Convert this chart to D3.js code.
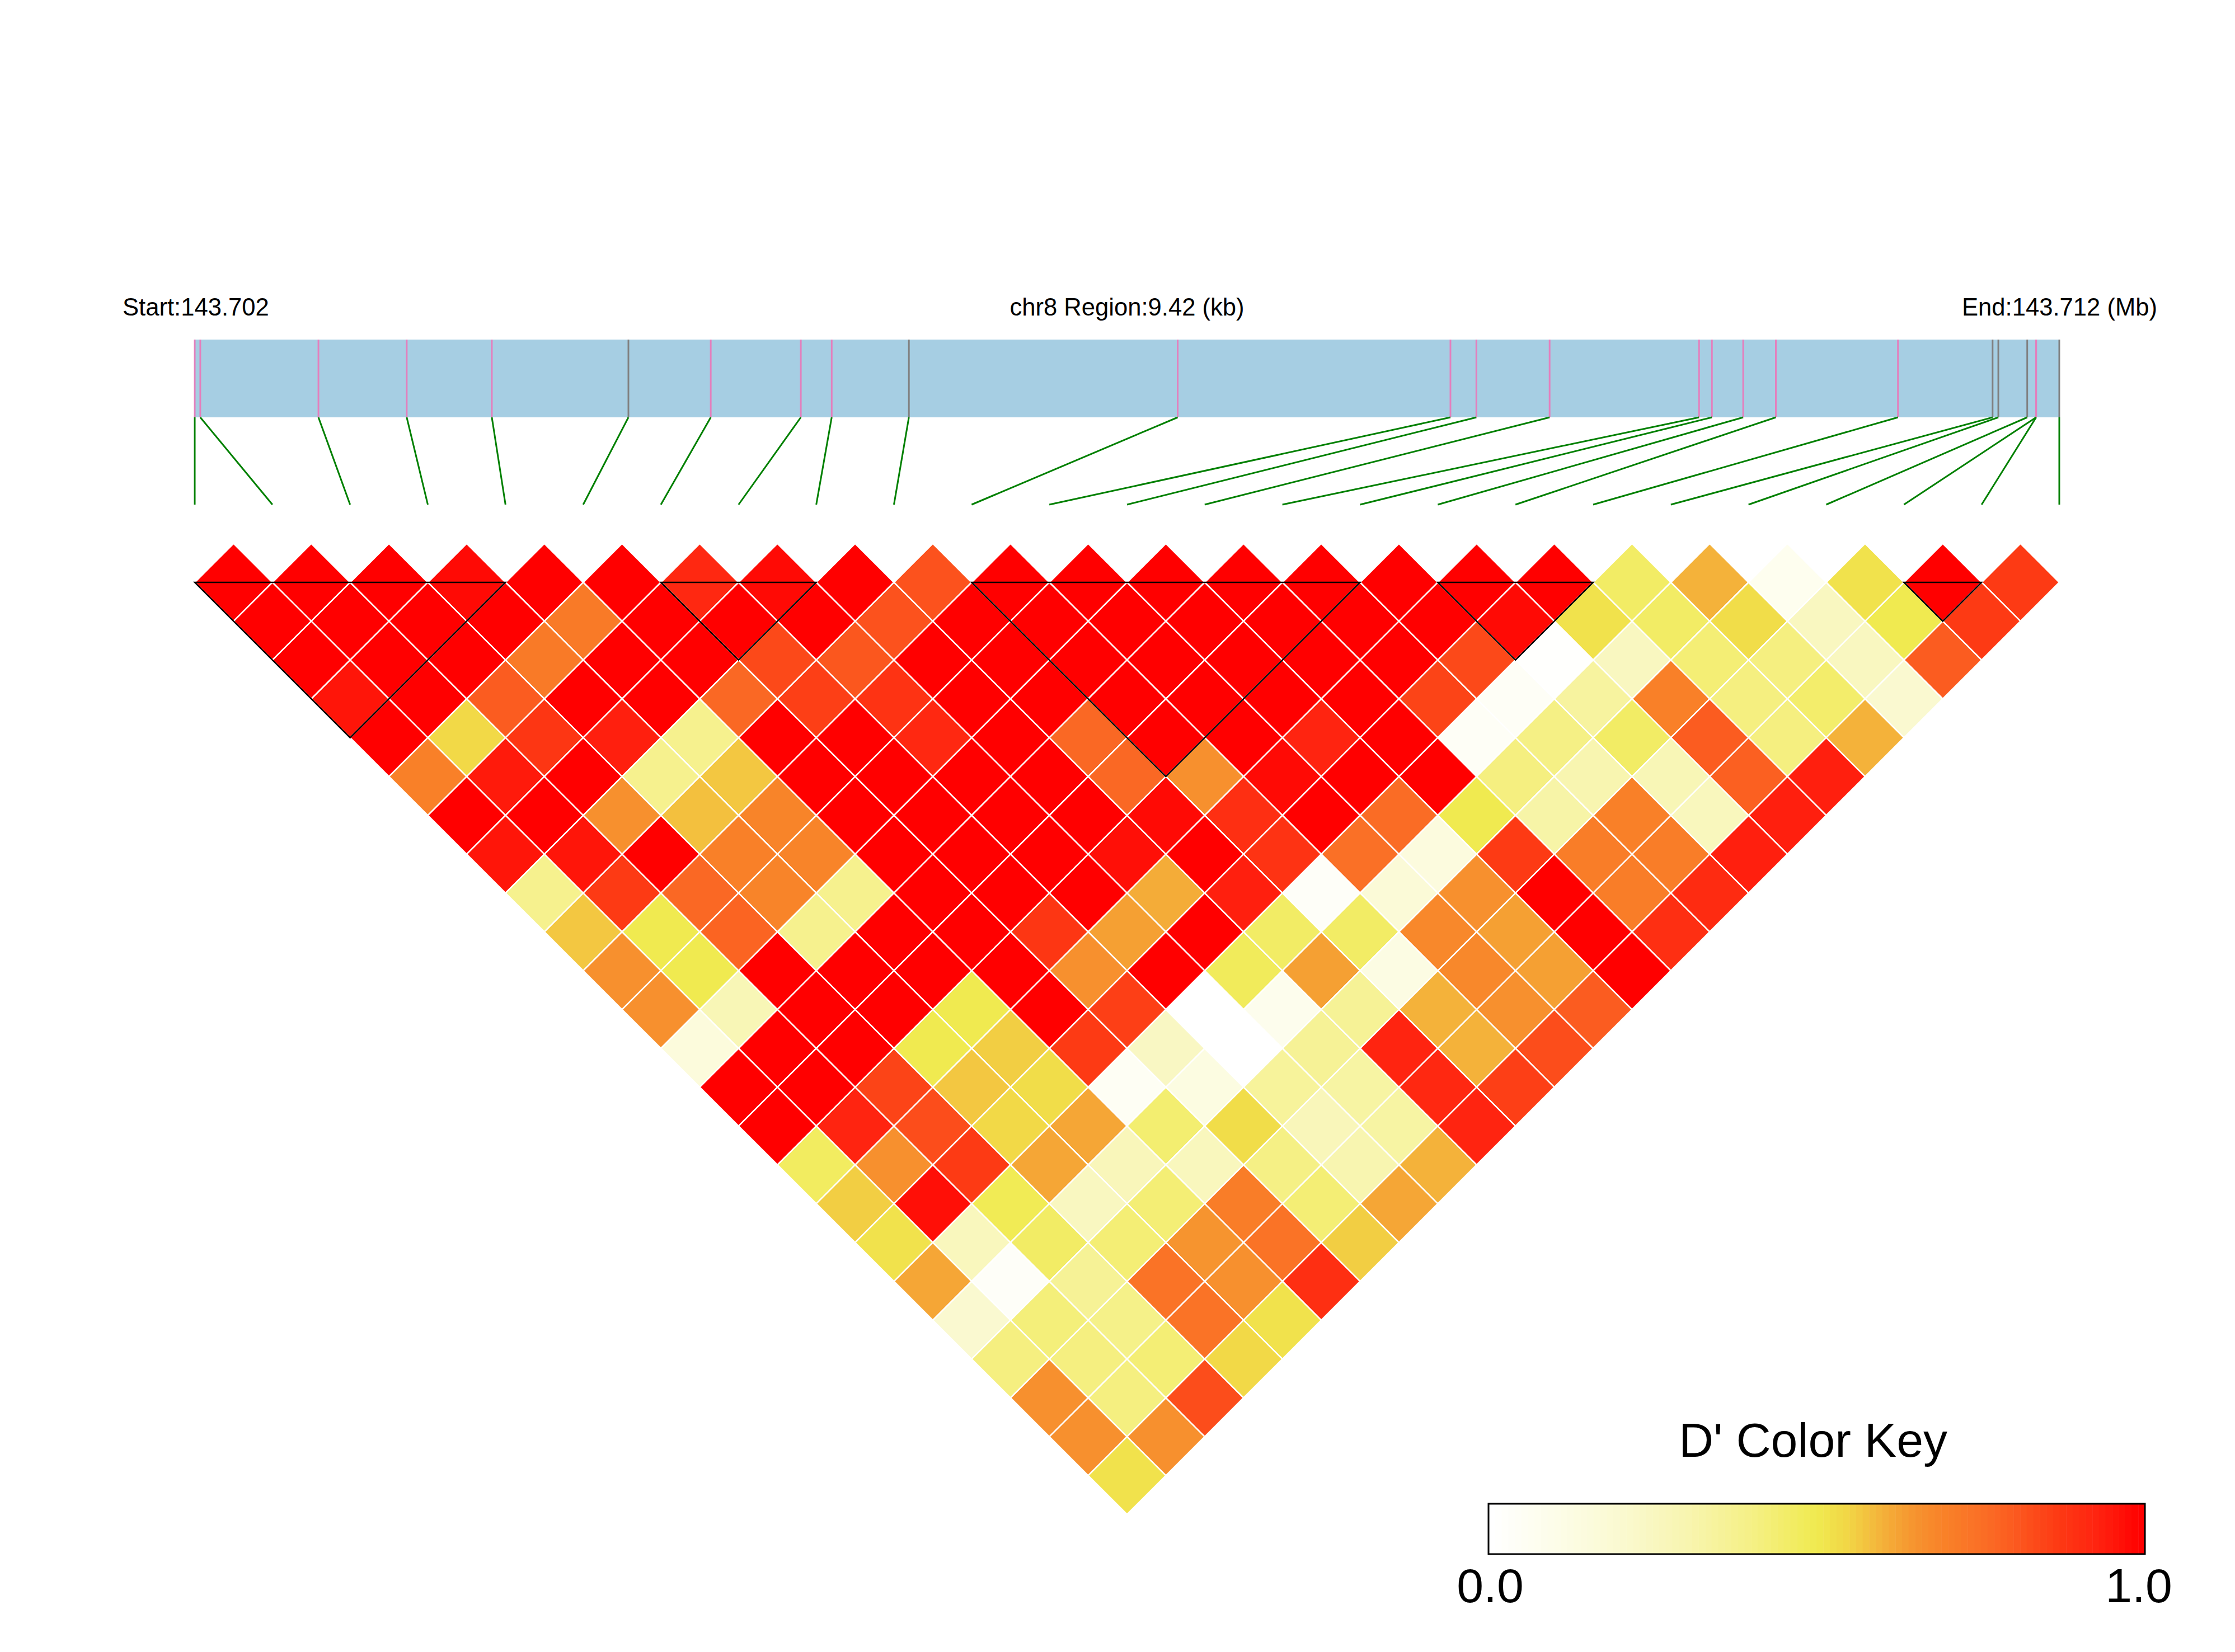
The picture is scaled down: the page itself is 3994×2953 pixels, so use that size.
<!DOCTYPE html>
<html><head><meta charset="utf-8">
<script src="https://cdn.jsdelivr.net/npm/d3@7"></script>
<style>html,body{margin:0;padding:0;background:#fff}svg{display:block}text{font-family:"Liberation Sans",Arial,sans-serif;fill:#000}</style>
</head><body><svg id="c" width="3994" height="2953"></svg>
<script>
// SNP positions along the region, kb from the region start
const snpKb = [0,.028,.625,1.071,1.501,2.191,2.607,3.062,3.218,3.608,4.966,6.344,6.475,6.845,7.600,7.665,7.823,7.988,8.605,9.083,9.112,9.258,9.303,9.303,9.42];
// 1 = grey tick, 0 = pink tick
const snpGrey = [0,0,0,0,0,1,0,0,0,1,0,0,0,0,0,0,0,0,0,1,1,1,0,0,1];
const regionKb = 9.42;
// D' by distance between SNPs: row k holds the pairs (i, i+k+1)
const r0=[1,1,1,.98,1,1,.92,.98,1,.82,1,1,1,1,1,1,1,1,.46,.6,.07,.52,1,.87];
const r1=[1,1,1,1,.72,1,1,1,.82,1,1,1,1,1,1,1,.98,.52,.46,.53,.25,.5,.87];
const r2=[1,1,1,.72,1,1,.84,.81,1,1,1,1,1,1,1,.84,.01,.25,.43,.41,.25,.8];
const r3=[.96,1,.8,1,1,.77,.86,.89,1,1,1,1,1,1,.85,.04,.34,.7,.41,.45,.2];
const r4=[1,.54,.88,.94,.38,1,1,.92,1,.77,1,1,.93,1,.04,.4,.46,.8,.41,.6];
const r5=[.7,.95,1,.38,.57,1,1,1,1,.77,.66,.98,1,1,.41,.3,.28,.79,.94];
const r6=[1,1,.66,.58,.69,1,1,1,1,.98,.9,1,.76,.5,.32,.7,.26,.94];
const r7=[.96,.96,1,.7,.69,1,1,1,.97,1,.89,.75,.14,.87,.71,.71,.94];
const r8=[.38,.87,.77,.69,.38,1,1,1,.61,.94,.03,.17,.66,1,.71,.91];
const r9=[.57,.5,.78,.38,1,1,.88,.63,1,.46,.46,.68,.63,1,.9];
const r10=[.66,.5,1,1,1,1,.66,1,.48,.63,.12,.68,.63,1];
const r11=[.66,.28,1,1,.5,1,.86,0,.08,.36,.6,.66,.8];
const r12=[.15,1,1,.5,.56,.87,.24,0,.36,.93,.6,.83];
const r13=[1,1,.85,.57,.53,.05,.13,.35,.33,.92,.86];
const r14=[1,.93,.83,.54,.62,.44,.53,.27,.33,.93];
const r15=[.47,.66,.87,.62,.27,.26,.4,.3,.6];
const r16=[.56,.97,.49,.25,.43,.71,.43,.62];
const r17=[.52,.26,.46,.43,.65,.74,.56];
const r18=[.62,.03,.36,.74,.66,.9];
const r19=[.2,.42,.39,.74,.52];
const r20=[.41,.41,.43,.54];
const r21=[.66,.41,.83];
const r22=[.66,.66];
const r23=[.52];
const rows=[r0,r1,r2,r3,r4,r5,r6,r7,r8,r9,r10,r11,r12,r13,r14,r15,r16,r17,r18,r19,r20,r21,r22,r23];
// LD blocks: first and last SNP index
const blockFirst=[0,6,10,16,22];
const blockLast=[4,8,15,18,23];
// text
const startLabel="Start:143.702", midLabel="chr8 Region:9.42 (kb)", endLabel="End:143.712 (Mb)";
const keyTitle="D' Color Key", keyLabels=["0.0","1.0"];
// colour ramp
const rampStops=[0,.1,.2,.3,.4,.5,.55,.6,.65,.7,.75,.8,.87,.93,1];
const rampColors=["#ffffff","#fdfde8","#faf9d0","#f8f5b0","#f5f085","#f0ea50","#f2d545","#f4b23a","#f6942f","#f98028","#fa7026","#fb5c20","#fd3a14","#ff2410","#ff0000"];

const color=d3.scaleLinear().domain(rampStops).range(rampColors).interpolate(d3.interpolateRgb);
const svg=d3.select("#c");
const n=snpKb.length;
const xKb=d3.scaleLinear().domain([0,regionKb]).range([348,3680]);
const xSnp=d3.scaleLinear().domain([0,n-1]).range([348,3680]);
// y measured in SNP-distance units; distance 1 is the top row's centre
const yDist=d3.scaleLinear().domain([1,24]).range([1041,1041+23*(3332/24)/2]);
const line=d3.line();

// region bar
const barTop=607,barBot=746,connEnd=902;
svg.append("rect").attr("x",xKb(0)).attr("y",barTop).attr("width",xKb(regionKb)-xKb(0)).attr("height",barBot-barTop).attr("fill","#a6cee3");
svg.append("g").selectAll("line").data(snpKb).join("line")
 .attr("x1",d=>xKb(d)).attr("x2",d=>xKb(d)).attr("y1",barTop).attr("y2",barBot)
 .attr("stroke",(d,i)=>snpGrey[i]?"#808080":"#e47fbd").attr("stroke-width",3);
svg.append("g").selectAll("line").data(snpKb).join("line")
 .attr("x1",d=>xKb(d)).attr("y1",barBot).attr("x2",(d,i)=>xSnp(i)).attr("y2",connEnd)
 .attr("stroke","#008000").attr("stroke-width",3);

// header text
const head=svg.append("g").attr("font-size",43.6);
head.append("text").attr("x",219).attr("y",564).text(startLabel);
head.append("text").attr("x",xSnp((n-1)/2)).attr("y",564).attr("text-anchor","middle").text(midLabel);
head.append("text").attr("x",3855).attr("y",564).attr("text-anchor","end").text(endLabel);

// LD cells
const cells=rows.flatMap((row,k)=>row.map((v,i)=>({i,j:i+k+1,v})));
const pt=(a,b)=>[xSnp((a+b)/2),yDist(b-a)];
svg.append("g").selectAll("path").data(cells).join("path")
 .attr("d",d=>{
   const c=pt(d.i,d.j),up=yDist(d.j-d.i)-yDist(d.j-d.i-1);
   return line([[c[0],c[1]-up],[xSnp((d.i+d.j+1)/2),c[1]],[c[0],c[1]+up],[xSnp((d.i+d.j-1)/2),c[1]]])+"Z";
 })
 .attr("fill",d=>color(d.v)).attr("stroke","#fff").attr("stroke-width",2.5);

// block outlines
svg.append("g").selectAll("path").data(blockFirst).join("path")
 .attr("d",(a,i)=>{const b=blockLast[i];return line([[xSnp(a),yDist(1)],[xSnp(b),yDist(1)],[xSnp((a+b)/2),yDist(b-a+1)]])+"Z";})
 .attr("fill","none").attr("stroke","#000").attr("stroke-width",2.5);

// colour key
const keyX=d3.scaleLinear().domain([0,1]).range([2660,3833]);
const keyTop=2688,keyBot=2778;
const keySteps=d3.range(100).map(i=>i/99);
svg.append("g").selectAll("rect").data(keySteps).join("rect")
 .attr("x",(d,i)=>keyX(i/100)).attr("width",(keyX(1)-keyX(0))/100+.5).attr("y",keyTop).attr("height",keyBot-keyTop).attr("fill",d=>color(d));
svg.append("rect").attr("x",keyX(0)).attr("y",keyTop).attr("width",keyX(1)-keyX(0)).attr("height",keyBot-keyTop).attr("fill","none").attr("stroke","#000").attr("stroke-width",3);
svg.append("text").attr("x",3240).attr("y",2604).attr("text-anchor","middle").attr("font-size",86).text(keyTitle);
svg.append("g").attr("font-size",86).selectAll("text").data(keyLabels).join("text")
 .attr("x",(d,i)=>keyX(i)+(i?-11:3)).attr("y",2864).attr("text-anchor","middle").text(d=>d);
</script></body></html>
